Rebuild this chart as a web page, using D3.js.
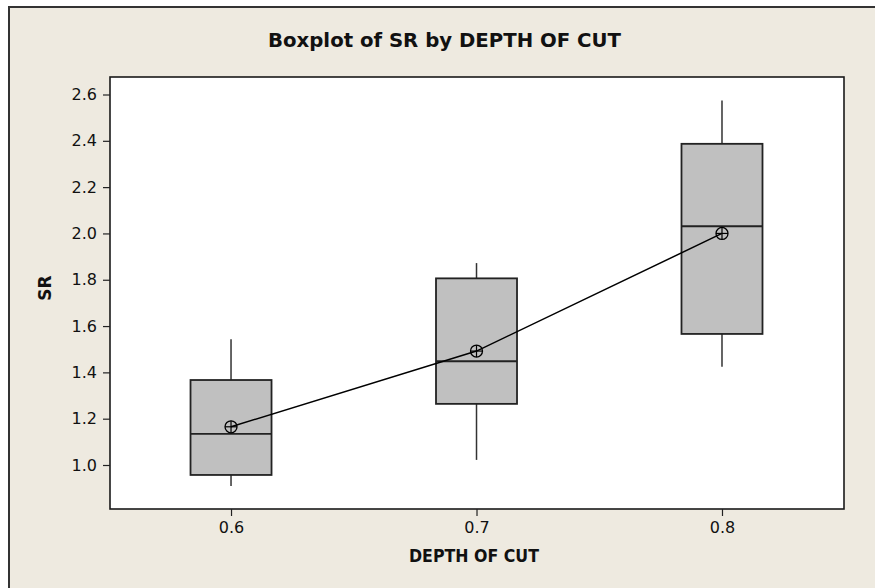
<!DOCTYPE html>
<html>
<head>
<meta charset="utf-8">
<script src="https://cdn.jsdelivr.net/npm/d3@7"></script>
<style>
  html, body { margin: 0; padding: 0; background: #ffffff; }
  svg { display: block; }
  text { font-family: "DejaVu Sans", Verdana, sans-serif; fill: #111; }
</style>
</head>
<body>
<svg id="chart" width="875" height="588"></svg>
<script>
// ---- Data ----
const depths = [0.6, 0.7, 0.8];
const whiskerLow = [0.909, 1.022, 1.424];
const q1 = [0.957, 1.264, 1.566];
const median = [1.134, 1.448, 2.031];
const q3 = [1.367, 1.806, 2.387];
const whiskerHigh = [1.543, 1.872, 2.574];
const means = [1.165, 1.492, 2.000];
const yTicks = [1.0, 1.2, 1.4, 1.6, 1.8, 2.0, 2.2, 2.4, 2.6];
const xTicks = [0.6, 0.7, 0.8];
const titleText = "Boxplot of SR by DEPTH OF CUT";
const xLabel = "DEPTH OF CUT";
const yLabel = "SR";

// ---- Layout ----
const svg = d3.select("#chart");
const W = 875, H = 588;
const plot = { left: 110, right: 844, top: 77, bottom: 509 };
const boxHalf = 0.0165; // half box width in x-data units

const x = d3.scaleLinear().domain([0.5507, 0.8497]).range([plot.left, plot.right]);
const y = d3.scaleLinear().domain([1.0, 2.6]).range([465, 94.5]);

// outer frame
svg.append("rect").attr("x", 9).attr("y", 7).attr("width", W).attr("height", H)
  .attr("fill", "#EEEAE0").attr("stroke", "#333").attr("stroke-width", 2);

// plot area
svg.append("rect")
  .attr("x", plot.left).attr("y", plot.top)
  .attr("width", plot.right - plot.left).attr("height", plot.bottom - plot.top)
  .attr("fill", "#ffffff").attr("stroke", "#1a1a1a").attr("stroke-width", 1.6);

// y axis
const yAxis = svg.append("g").attr("transform", `translate(${plot.left},0)`)
  .call(d3.axisLeft(y).tickValues(yTicks).tickFormat(d3.format(".1f")).tickSize(7).tickPadding(6));
yAxis.select(".domain").remove();
yAxis.selectAll("line").attr("stroke", "#222").attr("stroke-width", 1.2);
yAxis.selectAll("text").attr("font-size", 16).attr("font-family", "DejaVu Sans, sans-serif").attr("fill", "#111");

// x axis
const xAxis = svg.append("g").attr("transform", `translate(0,${plot.bottom})`)
  .call(d3.axisBottom(x).tickValues(xTicks).tickFormat(d3.format(".1f")).tickSize(7).tickPadding(6));
xAxis.select(".domain").remove();
xAxis.selectAll("line").attr("stroke", "#222").attr("stroke-width", 1.2);
xAxis.selectAll("text").attr("font-size", 16).attr("font-family", "DejaVu Sans, sans-serif").attr("fill", "#111");

// boxes
const idx = d3.range(depths.length);
const g = svg.append("g");
// whiskers
g.selectAll("line.wu").data(idx).join("line").attr("class", "wu")
  .attr("x1", i => x(depths[i])).attr("x2", i => x(depths[i]))
  .attr("y1", i => y(q3[i])).attr("y2", i => y(whiskerHigh[i]))
  .attr("stroke", "#333").attr("stroke-width", 1.5);
g.selectAll("line.wl").data(idx).join("line").attr("class", "wl")
  .attr("x1", i => x(depths[i])).attr("x2", i => x(depths[i]))
  .attr("y1", i => y(q1[i])).attr("y2", i => y(whiskerLow[i]))
  .attr("stroke", "#333").attr("stroke-width", 1.5);
// box
g.selectAll("rect.box").data(idx).join("rect").attr("class", "box")
  .attr("x", i => x(depths[i] - boxHalf))
  .attr("width", i => x(depths[i] + boxHalf) - x(depths[i] - boxHalf))
  .attr("y", i => y(q3[i]))
  .attr("height", i => y(q1[i]) - y(q3[i]))
  .attr("fill", "#C0C0C0").attr("stroke", "#222").attr("stroke-width", 1.8);
// median
g.selectAll("line.med").data(idx).join("line").attr("class", "med")
  .attr("x1", i => x(depths[i] - boxHalf)).attr("x2", i => x(depths[i] + boxHalf))
  .attr("y1", i => y(median[i])).attr("y2", i => y(median[i]))
  .attr("stroke", "#222").attr("stroke-width", 1.8);

// mean connect line
const line = d3.line().x((d, i) => x(depths[i])).y(d => y(d));
g.append("path").datum(means).attr("d", line)
  .attr("fill", "none").attr("stroke", "#000").attr("stroke-width", 1.5);

// mean symbols (circle with cross)
const r = 6;
const ms = g.selectAll("g.mean").data(idx).join("g").attr("class", "mean")
  .attr("transform", i => `translate(${x(depths[i])},${y(means[i])})`);
ms.append("circle").attr("r", r).attr("fill", "none").attr("stroke", "#000").attr("stroke-width", 1.3);
ms.append("line").attr("x1", -r).attr("x2", r).attr("stroke", "#000").attr("stroke-width", 1.2);
ms.append("line").attr("y1", -r).attr("y2", r).attr("stroke", "#000").attr("stroke-width", 1.2);

// title
svg.append("text").attr("x", 444.5).attr("y", 47)
  .attr("text-anchor", "middle").attr("font-size", 19).attr("font-weight", "bold")
  .attr("textLength", 353).attr("lengthAdjust", "spacingAndGlyphs")
  .text(titleText);

// x label
svg.append("text").attr("x", 474).attr("y", 562)
  .attr("text-anchor", "middle").attr("font-size", 17).attr("font-weight", "bold")
  .attr("textLength", 130).attr("lengthAdjust", "spacingAndGlyphs")
  .text(xLabel);

// y label
svg.append("text").attr("transform", "translate(51,288) rotate(-90)")
  .attr("text-anchor", "middle").attr("font-size", 17).attr("font-weight", "bold")
  .text(yLabel);
</script>
</body>
</html>
